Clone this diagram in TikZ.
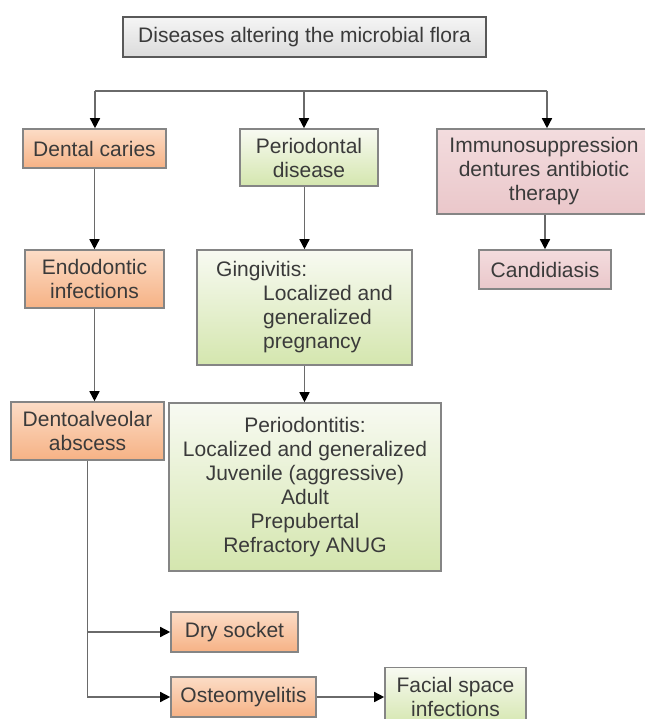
\documentclass[tikz,border=0pt]{standalone}
\usepackage{fontspec}
\setmainfont{Liberation Sans}
\usepackage{tikz}
\usetikzlibrary{arrows.meta}

\definecolor{linegray}{HTML}{6A6A6A}
\definecolor{textgray}{HTML}{3A3A3A}
\definecolor{edgegray}{HTML}{858585}
\definecolor{orangetop}{HTML}{FCDCC6}
\definecolor{orangebot}{HTML}{F6B285}
\definecolor{greentop}{HTML}{F8FAF2}
\definecolor{greenbot}{HTML}{D4E6AE}
\definecolor{pinktop}{HTML}{F3DCDE}
\definecolor{pinkbot}{HTML}{EAC7CA}

\begin{document}
\begin{tikzpicture}[
    x=0.5pt, y=-0.5pt,
    flowbox/.style={shape=rectangle, draw=edgegray, line width=0.8pt, inner sep=2pt,
        align=center, text=textgray, font=\fontsize{10.5}{12}\selectfont},
    flowtitle/.style={flowbox, top color=gray!8, bottom color=gray!28, draw=gray!70!black},
    floworange/.style={flowbox, top color=orangetop, bottom color=orangebot},
    flowgreen/.style={flowbox, top color=greentop, bottom color=greenbot},
    flowpink/.style={flowbox, top color=pinktop, bottom color=pinkbot},
    flowline/.style={draw=linegray, line width=0.75pt},
    flowarrow/.style={flowline, -{Triangle[length=5pt,width=5pt,color=black]}},
    flowedges/.style={line width=0.75pt, -{Triangle[length=5pt,width=5pt,color=black]},
        every edge/.append style={draw=linegray}},
]
\useasboundingbox (0,0) rectangle (644,719);

\node[flowtitle, minimum width=181.5pt, minimum height=20pt] (title) at (304.5,37) {Diseases altering the microbial flora};
\node[floworange, minimum width=71.5pt, minimum height=19.5pt] (caries) at (94.5,148.5) {Dental caries};
\node[flowgreen, minimum width=69pt, minimum height=28.5pt] (perio) at (309,157.5) {Periodontal\\disease};
\node[flowpink, minimum width=107pt, minimum height=42.5pt] (immuno) at (544,171.5) {Immunosuppression\\dentures antibiotic\\therapy};
\node[floworange, minimum width=69.5pt, minimum height=29pt] (endo) at (94.5,279) {Endodontic\\infections};
\node[flowgreen, minimum width=107.5pt, minimum height=57.5pt, align=left] (gingi) at (304.5,307.5)
    {Gingivitis:\\\hspace*{23.5pt}Localized and\\\hspace*{23.5pt}generalized\\\hspace*{23.5pt}pregnancy};
\node[flowpink, minimum width=66pt, minimum height=19.5pt] (cand) at (545,269.5) {Candidiasis};
\node[floworange, minimum width=76.5pt, minimum height=29pt] (dento) at (87.5,431) {Dentoalveolar\\abscess};
\node[flowgreen, minimum width=136pt, minimum height=84pt] (pdt) at (305,487)
    {Periodontitis:\\Localized and generalized\\Juvenile (aggressive)\\Adult\\Prepubertal\\Refractory ANUG};
\node[floworange, minimum width=63.5pt, minimum height=20pt] (dry) at (234.5,632) {Dry socket};
\node[floworange, minimum width=72.5pt, minimum height=20pt] (osteo) at (243.5,697) {Osteomyelitis};
\node[flowgreen, minimum width=70.5pt, minimum height=29.5pt] (facial) at (455.5,697) {Facial space\\infections};

\coordinate (bar1) at (95,91);
\coordinate (bar2) at (304,91);
\coordinate (bar3) at (547,91);

\draw[flowline] (bar1) -- (bar3);
\path[flowedges]
    (bar1) edge (bar1 |- caries.north)
    (bar2) edge (bar2 |- perio.north)
    (bar3) edge (bar3 |- immuno.north)
    (caries) edge (endo)
    (endo.south) edge (endo.south |- dento.north)
    (perio.south -| gingi.north) edge (gingi.north)
    (gingi.south) edge (gingi.south |- pdt.north)
    (immuno.south -| cand.north) edge (cand.north)
    (dento.south |- dry.west) edge (dry.west)
    (osteo) edge (facial)
;
\draw[flowarrow] (dento.south) |- (osteo.west);
\end{tikzpicture}
\end{document}
